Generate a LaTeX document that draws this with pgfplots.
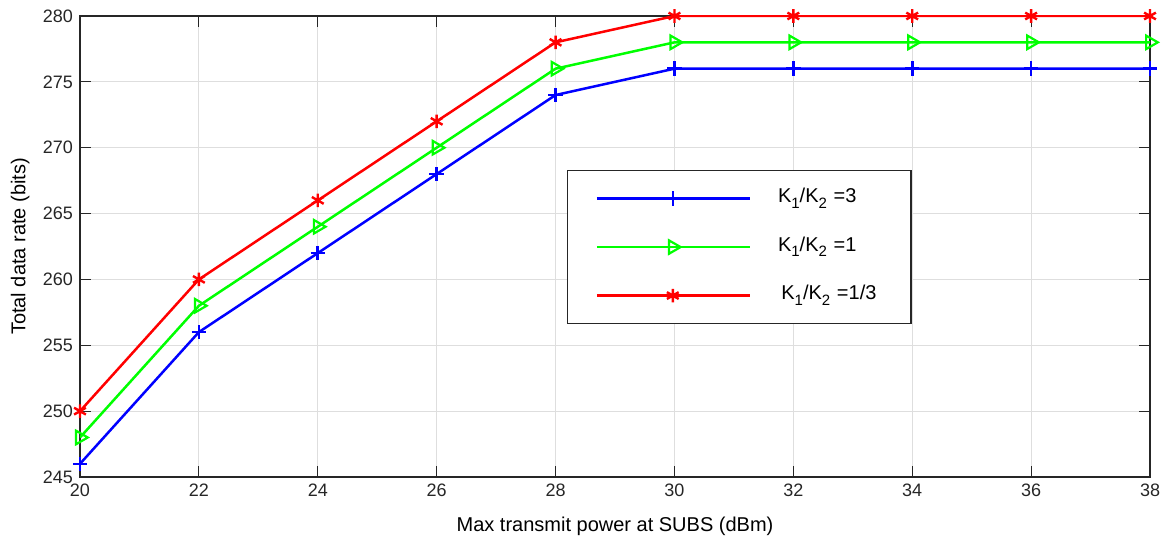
\documentclass[border=0pt]{standalone}
\usepackage{fontspec}
\setmainfont{Liberation Sans}
\usepackage{pgfplots}
\pgfplotsset{compat=1.18}
\definecolor{axgray}{RGB}{38,38,38}
\definecolor{gridgray}{RGB}{222,222,222}
\newcommand{\sub}[1]{\raisebox{-0.55ex}{\fontsize{7.5}{8}\selectfont #1}}
\begin{document}
\begin{tikzpicture}
\begin{axis}[
  scale only axis, width=535pt, height=230.5pt,
  xmin=20, xmax=38, ymin=245, ymax=280,
  xtick={20,22,...,38}, ytick={245,250,...,280},
  grid=major, major grid style={gridgray, line width=0.5pt},
  axis line style={axgray, line width=0.6pt},
  tick style={axgray, line width=0.6pt},
  major tick length=5.35pt, tick align=inside,
  /pgf/number format/assume math mode=true,
  tick label style={font=\fontsize{9}{10}\selectfont, text=axgray},
  label style={font=\fontsize{10}{12}\selectfont, text=axgray},
  xlabel={Max transmit power at SUBS (dBm)},
  ylabel={Total data rate (bits)},
  every axis x label/.style={at={(axis description cs:0.5,-0.107)}, anchor=center},
  every axis y label/.style={at={(axis description cs:-0.056,0.5)}, rotate=90, anchor=center},
  legend cell align=left,
  legend image code/.code={\draw[mark repeat=2,mark phase=2] plot coordinates {(0pt,0pt) (38pt,0pt) (76.5pt,0pt)};},
  legend style={at={(axis description cs:0.4551,0.666)}, anchor=north west,
    draw=axgray, line width=0.6pt, inner xsep=14pt, inner ysep=9pt, row sep=14.25pt,
    column sep=13.5pt,
    font=\fontsize{10}{12}\selectfont,
    nodes={inner sep=0pt, text height=7pt, text depth=3pt, text width=52.5pt, align=left}},
]
\addplot[blue, line width=1.25pt, mark=+, mark size=3.6pt, mark options={solid, line width=1.3pt}]
  coordinates {(20,246) (22,256) (24,262) (26,268) (28,274) (30,276) (32,276) (34,276) (36,276) (38,276)};
\addlegendentry{K\sub{1}/K\sub{2} =3}
\addplot[green, line width=1.25pt, mark=triangle, mark size=3.9pt, mark options={solid, rotate=-90, line width=1.1pt}]
  coordinates {(20,248) (22,258) (24,264) (26,270) (28,276) (30,278) (32,278) (34,278) (36,278) (38,278)};
\addlegendentry{K\sub{1}/K\sub{2} =1}
\addplot[red, line width=1.25pt, mark=asterisk, mark size=3.4pt, mark options={solid, line width=1.2pt}]
  coordinates {(20,250) (22,260) (24,266) (26,272) (28,278) (30,280) (32,280) (34,280) (36,280) (38,280)};
\addlegendentry{\,K\sub{1}/K\sub{2} =1/3}
\end{axis}
\pgfresetboundingbox
\path (current axis.south west) ++(-40pt,-34pt) coordinate (bbA);
\path (current axis.north east) ++(7.5pt,8pt) coordinate (bbB);
\path[use as bounding box] (bbA) rectangle (bbB);
\end{tikzpicture}
\end{document}
